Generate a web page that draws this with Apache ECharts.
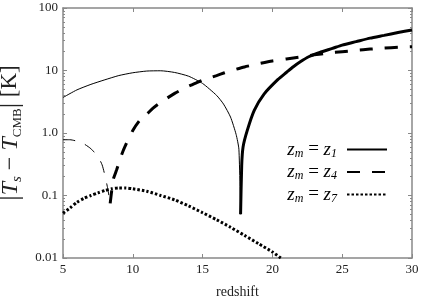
<!DOCTYPE html>
<html>
<head>
<meta charset="utf-8">
<script src="https://cdn.jsdelivr.net/npm/echarts@6/dist/echarts.min.js"></script>
<style>html,body{margin:0;padding:0;background:#fff;}#c{width:421px;height:302px;}</style>
</head>
<body>
<div id="c"></div>
<script>
// ---- data (redshift, |Ts - Tcmb| in K) ----
const xTicks = [5, 10, 15, 20, 25, 30];
const yTickLabels = ['0.01', '0.1', '1.0', '10', '100'];
const yMinorTicks = [];
[0.01, 0.1, 1, 10].forEach(function (d) { for (let k = 2; k <= 9; k++) yMinorTicks.push(+(d * k).toPrecision(3)); });
const yMajorTicks = [0.01, 0.1, 1, 10, 100];

// z_m = z_1 : thin part (negative branch) and thick part
const z1ThinX = [5, 6, 7, 8, 9, 10, 11, 12, 13, 14, 15, 16, 16.5, 17, 17.4, 17.6, 17.72];
const z1ThinY = [3.7, 4.9, 6.0, 7.1, 8.3, 9.2, 9.8, 9.9, 9.3, 8.1, 6.2, 4.0, 2.9, 1.8, 0.95, 0.55, 0.05];
const z1ThickX = [17.72, 17.8, 17.9, 18.2, 18.7, 19.4, 20.4, 21, 21.5, 22, 22.6, 23.4, 24.3, 25, 26, 27, 28, 29, 30];
const z1ThickY = [0.05, 0.3, 0.6, 1.1, 2.3, 4.2, 7.2, 9.3, 11.5, 13.8, 16.6, 19.5, 22.6, 25.5, 29, 33, 36.5, 40.5, 44.5];

// z_m = z_4
const z4ThinX = [5, 5.5, 6, 6.5, 7, 7.5, 7.8, 8.0, 8.2, 8.38];
const z4ThinY = [0.78, 0.78, 0.74, 0.67, 0.56, 0.42, 0.31, 0.21, 0.13, 0.075];
const z4ThickX = [8.38, 8.6, 8.85, 9.2, 9.5, 10, 10.5, 11, 11.45, 12, 13, 14, 14.66, 15, 16, 16.57, 17, 18, 19, 20, 21, 22, 23, 24, 25, 26, 27, 28, 29, 30];
const z4ThickY = [0.075, 0.18, 0.26, 0.45, 0.65, 1.1, 1.6, 2.0, 2.5, 3.1, 4.3, 5.6, 6.5, 7.0, 8.3, 9.2, 9.9, 11.4, 12.8, 14.2, 15.3, 16.5, 17.8, 19.0, 20.0, 21.0, 22.0, 22.8, 23.5, 24.0];

// z_m = z_7
const z7X = [5, 5.5, 6, 6.5, 7, 7.5, 8, 8.5, 9, 9.5, 10, 11, 12, 13, 14, 15, 16, 17, 18, 19, 20, 20.6];
const z7Y = [0.052, 0.063, 0.078, 0.09, 0.1, 0.11, 0.12, 0.128, 0.132, 0.132, 0.128, 0.117, 0.1, 0.085, 0.068, 0.053, 0.041, 0.031, 0.023, 0.017, 0.0125, 0.01];

function pairs(xs, ys) { return xs.map(function (x, i) { return [x, ys[i]]; }); }

const serif = 'Liberation Serif';
const frame = '#888';
const chart = echarts.init(document.getElementById('c'), null, { renderer: 'canvas' });

const legendNames = { 'z1': '1', 'z4': '4', 'z7': '7' };

const yBase = {
  type: 'log', logBase: 10, min: 0.01, max: 100, gridIndex: 0,
  splitLine: { show: false }, splitNumber: 4
};

chart.setOption({
  animation: false,
  backgroundColor: '#fff',
  grid: { left: 63, right: 9, top: 8, bottom: 44, containLabel: false, outerBoundsMode: 'none' },
  legend: {
    data: ['z1', 'z4', 'z7'],
    orient: 'vertical', align: 'right', right: 28, top: 135,
    itemWidth: 40, itemHeight: 14, itemGap: 3,
    itemStyle: { opacity: 0, borderWidth: 0 },
    formatter: function (name) { return '{i|z}{s|m}{e| = }{i|z}{s|' + legendNames[name] + '}{p|}'; },
    textStyle: {
      fontFamily: serif, color: '#000',
      rich: {
        i: { fontFamily: serif, fontStyle: 'italic', fontSize: 19, lineHeight: 20 },
        s: { fontFamily: serif, fontStyle: 'italic', fontSize: 12, verticalAlign: 'bottom', lineHeight: 12 },
        e: { fontFamily: serif, fontSize: 19, lineHeight: 20 },
        p: { width: 5 }
      }
    }
  },
  xAxis: [
    {
      type: 'value', min: 5, max: 30, interval: 5, position: 'bottom',
      axisLine: { lineStyle: { color: frame, width: 1.5 } },
      axisTick: { inside: true, length: 4, lineStyle: { color: frame } },
      splitLine: { show: false },
      axisLabel: { fontFamily: serif, fontSize: 13, color: '#222', margin: 5 },
      name: 'redshift', nameLocation: 'middle', nameGap: 27,
      nameTextStyle: { fontFamily: serif, fontSize: 14, color: '#222' }
    },
    {
      type: 'value', min: 5, max: 30, interval: 5, position: 'top',
      axisLine: { lineStyle: { color: frame, width: 1.5 } },
      axisTick: { inside: true, length: 4, lineStyle: { color: frame } },
      splitLine: { show: false }, axisLabel: { show: false }
    }
  ],
  yAxis: [
    Object.assign({}, yBase, {
      position: 'left',
      axisLine: { show: true, lineStyle: { color: frame, width: 1.5 } },
      axisTick: { show: true, inside: true, length: 4, customValues: yMajorTicks, lineStyle: { color: frame } },
      axisLabel: {
        fontFamily: serif, fontSize: 13, color: '#222', margin: 5, customValues: yMajorTicks,
        formatter: function (v) { return yTickLabels[Math.round(Math.log10(v)) + 2]; }
      },
      name: '{b||}{t|T}{s|s}{m| − }{t|T}{c|CMB}{b||}{r| [K]}',
      nameLocation: 'middle', nameRotate: 90, nameGap: 33,
      nameTextStyle: {
        fontFamily: serif, color: '#222',
        rich: {
          b: { fontFamily: serif, fontSize: 27, lineHeight: 28 },
          t: { fontFamily: serif, fontStyle: 'italic', fontSize: 24, lineHeight: 28 },
          s: { fontFamily: serif, fontStyle: 'italic', fontSize: 15, verticalAlign: 'bottom', lineHeight: 16 },
          c: { fontFamily: serif, fontSize: 13, verticalAlign: 'bottom', lineHeight: 15 },
          m: { fontFamily: serif, fontSize: 24, lineHeight: 28 },
          r: { fontFamily: serif, fontSize: 23, lineHeight: 28 }
        }
      }
    }),
    Object.assign({}, yBase, {
      position: 'left',
      axisLine: { show: false },
      axisTick: { show: true, inside: true, length: 2, customValues: yMinorTicks, lineStyle: { color: frame } },
      axisLabel: { show: false }
    }),
    Object.assign({}, yBase, {
      position: 'right',
      axisLine: { show: true, lineStyle: { color: frame, width: 1.5 } },
      axisTick: { show: true, inside: true, length: 4, customValues: yMajorTicks, lineStyle: { color: frame } },
      axisLabel: { show: false }
    }),
    Object.assign({}, yBase, {
      position: 'right',
      axisLine: { show: false },
      axisTick: { show: true, inside: true, length: 2, customValues: yMinorTicks, lineStyle: { color: frame } },
      axisLabel: { show: false }
    })
  ],
  series: [
    { name: 'z1thin', type: 'line', data: pairs(z1ThinX, z1ThinY), symbol: 'none', smooth: 0.2,
      lineStyle: { color: '#000', width: 1 } },
    { name: 'z1', type: 'line', data: pairs(z1ThickX, z1ThickY), symbol: 'none', smooth: 0.2,
      lineStyle: { color: '#000', width: 3 }, itemStyle: { color: '#000' } },
    { name: 'z4thin', type: 'line', data: pairs(z4ThinX, z4ThinY), symbol: 'none', smooth: 0.2,
      lineStyle: { color: '#000', width: 1, type: [12, 11] } },
    { name: 'z4', type: 'line', data: pairs(z4ThickX, z4ThickY), symbol: 'none', smooth: 0.2,
      lineStyle: { color: '#000', width: 3, type: [13, 12] }, itemStyle: { color: '#000' } },
    { name: 'z7', type: 'line', data: pairs(z7X, z7Y), symbol: 'none', smooth: 0.2,
      lineStyle: { color: '#000', width: 3, type: [2.5, 2] }, itemStyle: { color: '#000' } }
  ]
});
</script>
</body>
</html>
